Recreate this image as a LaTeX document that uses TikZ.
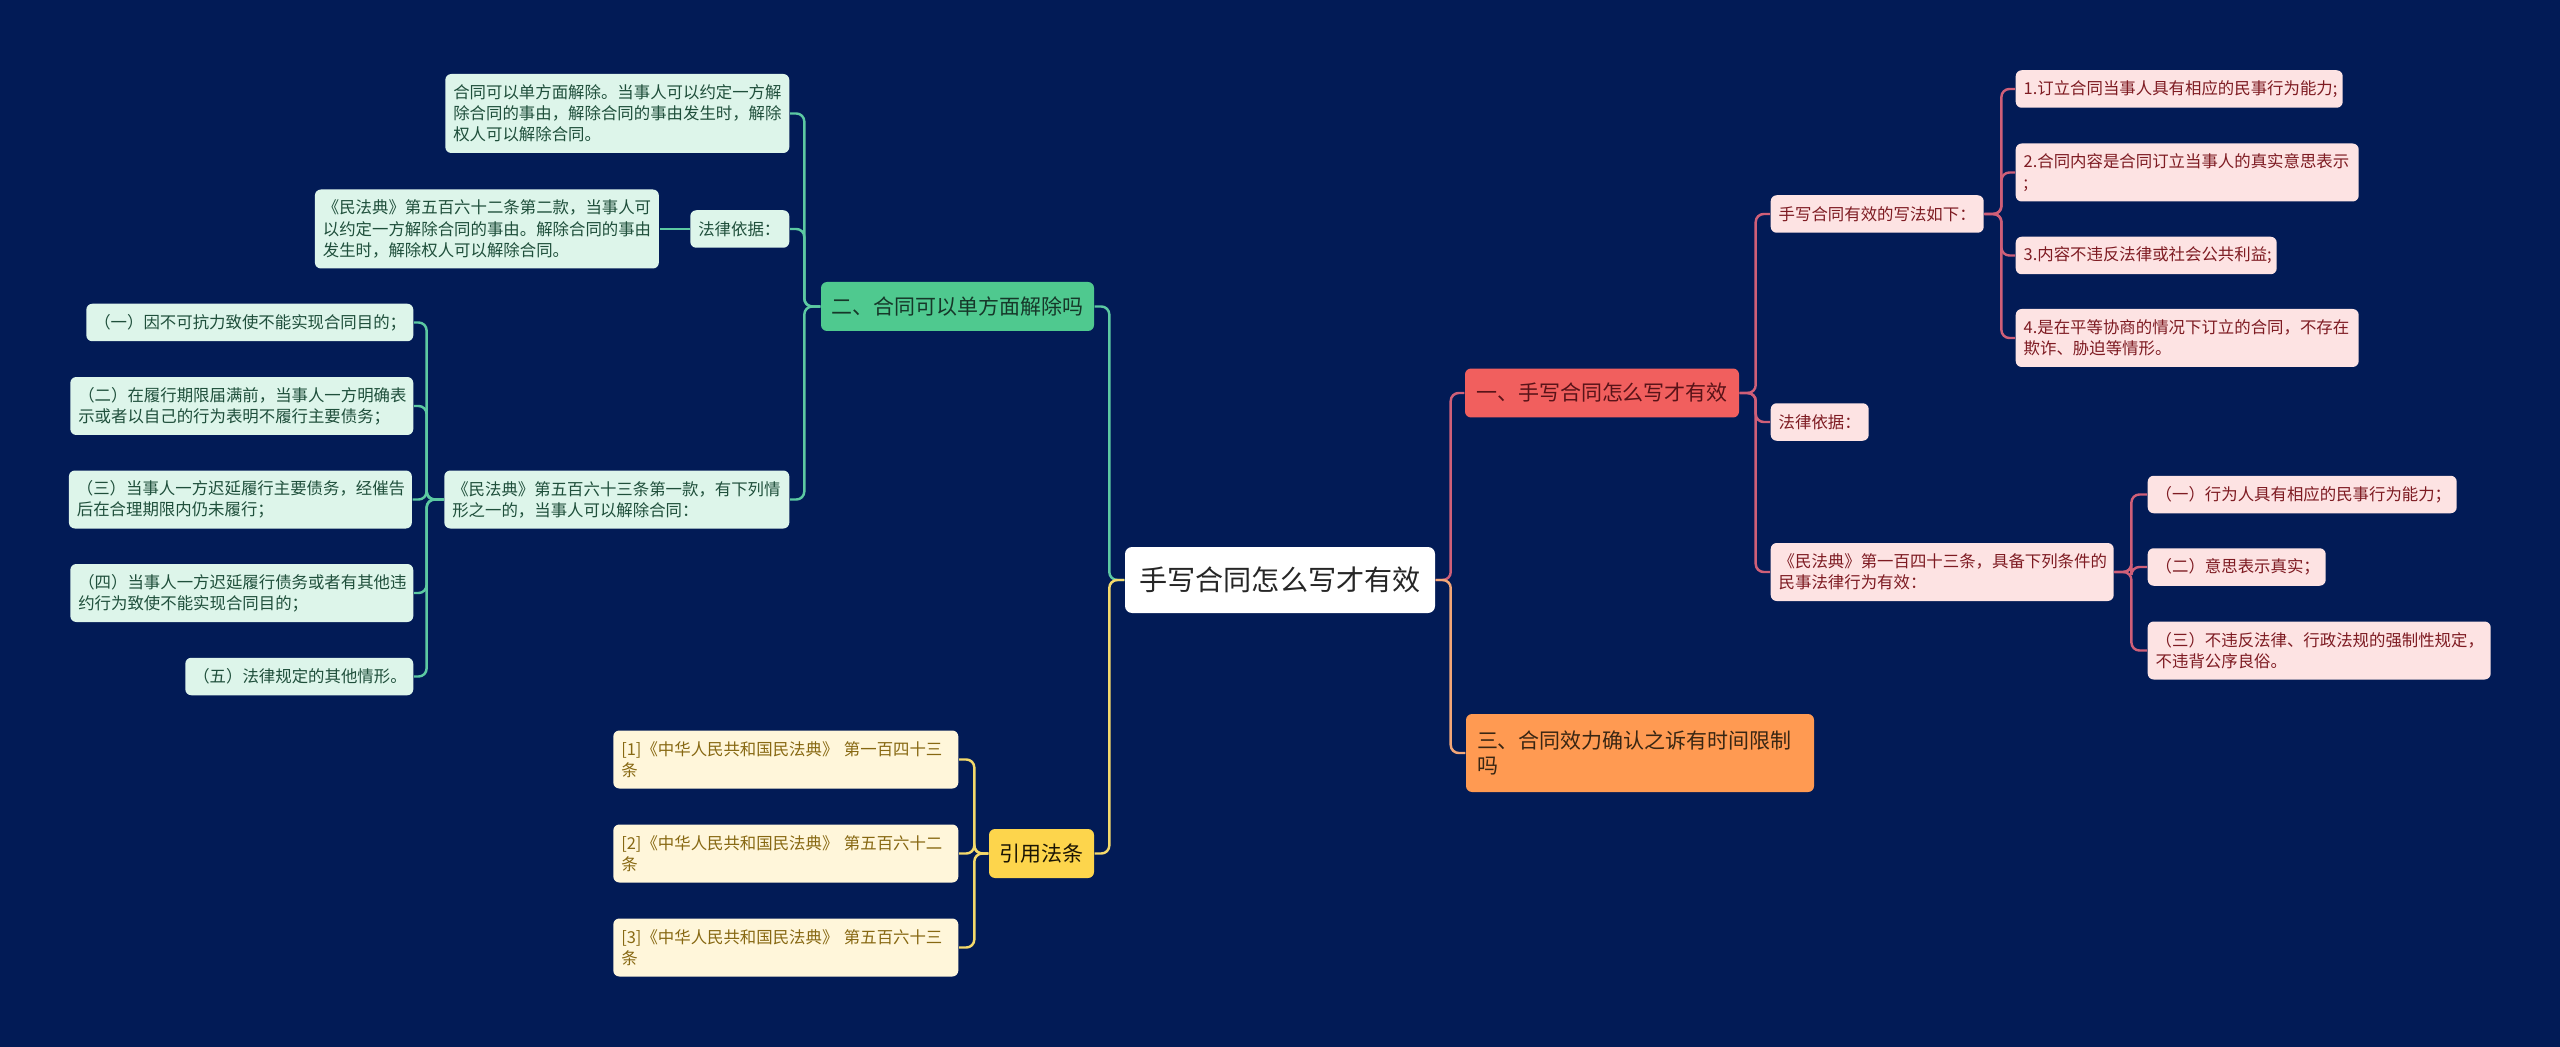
\documentclass[tikz,border=0pt]{standalone}
\usepackage{fontspec}
\newfontfamily\zhfont{Noto Sans CJK SC}
\usetikzlibrary{positioning}
\definecolor{bg}{HTML}{021B56}
\definecolor{mintline}{HTML}{5CC9A2}
\definecolor{mintfill}{HTML}{4FC98F}
\definecolor{mintleaf}{HTML}{DDF5EA}
\definecolor{minttext}{HTML}{1F4F3B}
\definecolor{roseline}{HTML}{CF5F78}
\definecolor{rosefill}{HTML}{F15F5E}
\definecolor{roseleaf}{HTML}{FDE3E3}
\definecolor{rosetext}{HTML}{7E1B22}
\definecolor{peachline}{HTML}{F2A677}
\definecolor{peachfill}{HTML}{FF9A52}
\definecolor{goldline}{HTML}{F4D96B}
\definecolor{goldfill}{HTML}{FDD54C}
\definecolor{goldleaf}{HTML}{FFF6DA}
\definecolor{goldtext}{HTML}{876812}
\tikzset{
  rootbox/.style={fill=white, text=black!85, rounded corners=0.7mm,
    minimum width=31mm, minimum height=6.6mm,
    font=\zhfont\fontsize{8pt}{9pt}\selectfont},
  topic/.style={rounded corners=0.6mm, minimum height=4.9mm, inner xsep=1mm,
    font=\zhfont\fontsize{5.97pt}{7.1pt}\selectfont},
  leaf/.style={rounded corners=0.6mm, inner xsep=0.8mm, inner ysep=0.4mm,
    align=left, font=\zhfont\fontsize{4.67pt}{6pt}\selectfont},
  gleaf/.style={leaf, fill=mintleaf, text=minttext},
  rleaf/.style={leaf, fill=roseleaf, text=rosetext},
  yleaf/.style={leaf, fill=goldleaf, text=goldtext},
  rows1/.style={minimum height=3.75mm},
  rows2/.style={minimum height=5.8mm},
  rows3/.style={minimum height=7.9mm},
  link/.style={line width=0.7pt, rounded corners=0.8mm},
}

\begin{document}
\begin{tikzpicture}[x=0.1mm, y=-0.1mm]
    \useasboundingbox (0,0) rectangle (2560,1047);
    \fill[bg] (0,0) rectangle (2560,1047);

    % centre and first level
    \node[rootbox] (root) at (1280,580) {手写合同怎么写才有效};
    \node[topic, fill=mintfill, text=minttext!70!black, minimum width=27.3mm] (grn) at (957.5,306.5) {二、合同可以单方面解除吗};
    \node[topic, fill=goldfill, text=black!80!goldtext, minimum width=10.5mm] (yel) at (1041.5,853.5) {引用法条};
    \node[topic, fill=rosefill, text=rosetext!70!black, minimum width=27.4mm] (red) at (1602,393) {一、手写合同怎么写才有效};
    \node[topic, fill=peachfill, text=black!70!brown, align=left, text width=32.6mm, inner xsep=1.1mm, minimum height=7.8mm] (org) at (1640,753) {三、合同效力确认之诉有时间限制\\吗};

    % left branch
    \node[gleaf, rows3, text width=32.8mm, anchor=east] (a1) at (790,113.5) {合同可以单方面解除。当事人可以约定一方解\\除合同的事由，解除合同的事由发生时，解除\\权人可以解除合同。};
    \node[gleaf, rows1, text width=8.3mm, anchor=east] (a2) at (790,229) {法律依据：};
    \node[gleaf, rows3, text width=32.8mm, left=3mm of a2] (a2c) {《民法典》第五百六十二条第二款，当事人可\\以约定一方解除合同的事由。解除合同的事由\\发生时，解除权人可以解除合同。};
    \node[gleaf, rows2, text width=32.9mm, anchor=east] (a3) at (790,499.5) {《民法典》第五百六十三条第一款，有下列情\\形之一的，当事人可以解除合同：};
    \node[gleaf, rows1, text width=31.1mm, anchor=east] (a3a) at (414,322.5) {（一）因不可抗力致使不能实现合同目的；};
    \node[gleaf, rows2, text width=32.7mm, anchor=east] (a3b) at (414,406) {（二）在履行期限届满前，当事人一方明确表\\示或者以自己的行为表明不履行主要债务；};
    \node[gleaf, rows2, text width=32.7mm, left=3.1mm of a3] (a3c) {（三）当事人一方迟延履行主要债务，经催告\\后在合理期限内仍未履行；};
    \node[gleaf, rows2, text width=32.7mm, anchor=east] (a3d) at (414,593) {（四）当事人一方迟延履行债务或者有其他违\\约行为致使不能实现合同目的；};
    \node[gleaf, rows1, text width=21.2mm, anchor=east] (a3e) at (414,676.5) {（五）法律规定的其他情形。};

    \node[yleaf, rows2, text width=32.9mm, anchor=east] (c1) at (959,759.5) {[1]《中华人民共和国民法典》~第一百四十三\\条};
    \node[yleaf, rows2, text width=32.9mm, anchor=east] (c2) at (959,853.5) {[2]《中华人民共和国民法典》~第五百六十二\\条};
    \node[yleaf, rows2, text width=32.9mm, anchor=east] (c3) at (959,947.5) {[3]《中华人民共和国民法典》~第五百六十三\\条};

    % right branch
    \node[rleaf, rows1, text width=19.7mm, anchor=west] (b1) at (1770,214) {手写合同有效的写法如下：};
    \node[rleaf, rows1, text width=31.1mm, anchor=west] (b1a) at (2015,89) {1.订立合同当事人具有相应的民事行为能力;};
    \node[rleaf, rows2, text width=32.7mm, anchor=west] (b1b) at (2015,172.5) {2.合同内容是合同订立当事人的真实意思表示\\;};
    \node[rleaf, rows1, text width=24.5mm, anchor=west] (b1c) at (2015,255.5) {3.内容不违反法律或社会公共利益;};
    \node[rleaf, rows2, text width=32.7mm, anchor=west] (b1d) at (2015,338) {4.是在平等协商的情况下订立的合同，不存在\\欺诈、胁迫等情形。};
    \node[rleaf, rows1, text width=8.2mm, anchor=west] (b2) at (1770,422) {法律依据：};
    \node[rleaf, rows2, text width=32.7mm, anchor=west] (b3) at (1770,572) {《民法典》第一百四十三条，具备下列条件的\\民事法律行为有效：};
    \node[rleaf, rows1, text width=29.3mm, anchor=west] (b3a) at (2147,494.5) {（一）行为人具有相应的民事行为能力；};
    \node[rleaf, rows1, text width=16.2mm, anchor=west] (b3b) at (2147,567) {（二）意思表示真实；};
    \node[rleaf, rows2, text width=32.7mm, anchor=west] (b3c) at (2147,650.5) {（三）不违反法律、行政法规的强制性规定，\\不违背公序良俗。};

    % connectors
    \draw[link, mintline] (root.west) -- ++(-15,0) |- (grn.east);
    \draw[link, goldline] (root.west) -- ++(-15,0) |- (yel.east);
    \draw[link, roseline] (root.east) -- ++(15,0) |- (red.west);
    \draw[link, peachline] (root.east) -- ++(15,0) |- (org.west);
    \foreach \n in {a1,a2,a3}
      \draw[link, mintline] (grn.west) -- ++(-16,0) |- (\n.east);
    \draw[link, mintline] (a2.west) -- (a2c.east);
    \foreach \n in {a3a,a3b,a3c,a3d,a3e}
      \draw[link, mintline] (a3.west) -- ++(-17,0) |- (\n.east);
    \foreach \n in {c1,c2,c3}
      \draw[link, goldline] (yel.west) -- ++(-14,0) |- (\n.east);
    \foreach \n in {b1,b2,b3}
      \draw[link, roseline] (red.east) -- ++(16,0) |- (\n.west);
    \foreach \n in {b1a,b1b,b1c,b1d}
      \draw[link, roseline] (b1.east) -- ++(17,0) |- (\n.west);
    \foreach \n in {b3a,b3b,b3c}
      \draw[link, roseline] (b3.east) -- ++(17,0) |- (\n.west);
\end{tikzpicture}
\end{document}
